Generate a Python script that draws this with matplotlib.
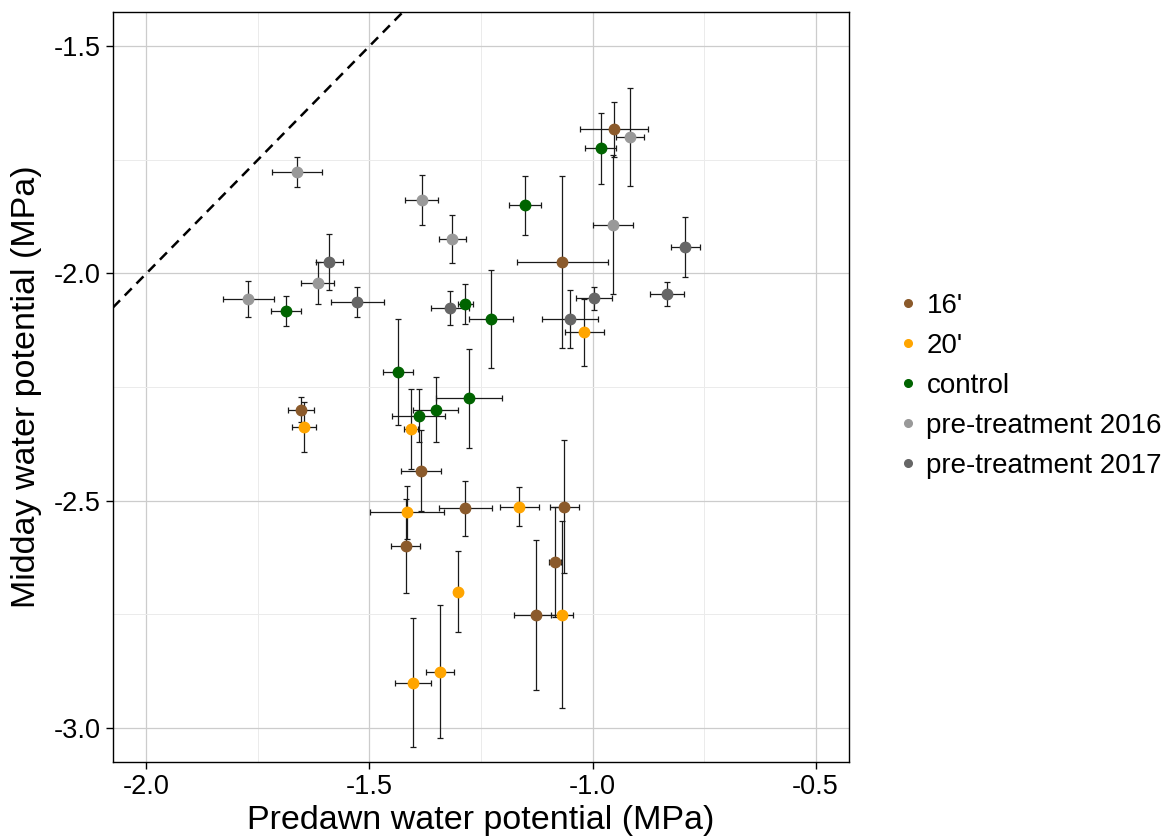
import matplotlib
matplotlib.use('Agg')
import matplotlib.pyplot as plt
from matplotlib import font_manager
from matplotlib.lines import Line2D

#%% fonts - narrow sans if we have one
names = {f.name for f in font_manager.fontManager.ttflist}
fam = 'Liberation Sans Narrow' if 'Liberation Sans Narrow' in names else 'Liberation Sans'
plt.rcParams['font.family'] = [fam, 'DejaVu Sans']
plt.rcParams['axes.unicode_minus'] = False

#%% data (predawn x, midday y, and error bar half widths)
groups = ["16'", "20'", "control", "pre-treatment 2016", "pre-treatment 2017"]
colors = ['#8B5A2B', '#FFA500', '#006400', '#999999', '#666666']

x_16 = [-0.951, -1.068, -1.653, -1.385, -1.285, -1.419, -1.063, -1.084, -1.126]
y_16 = [-1.683, -1.975, -2.300, -2.434, -2.517, -2.600, -2.513, -2.634, -2.751]
xe_16 = [0.076, 0.102, 0.029, 0.045, 0.060, 0.033, 0.032, 0.014, 0.049]
ye_16 = [0.060, 0.190, 0.028, 0.089, 0.060, 0.104, 0.146, 0.121, 0.165]

x_20 = [-1.018, -1.647, -1.407, -1.415, -1.164, -1.302, -1.402, -1.342, -1.068]
y_20 = [-2.130, -2.338, -2.343, -2.526, -2.513, -2.700, -2.901, -2.876, -2.751]
xe_20 = [0.044, 0.026, 0.015, 0.083, 0.043, 0.008, 0.041, 0.032, 0.024]
ye_20 = [0.074, 0.056, 0.088, 0.059, 0.043, 0.089, 0.142, 0.147, 0.206]

x_ctl = [-1.687, -1.285, -0.982, -1.151, -1.227, -1.436, -1.277, -1.352, -1.390]
y_ctl = [-2.083, -2.067, -1.725, -1.850, -2.100, -2.217, -2.275, -2.300, -2.313]
xe_ctl = [0.033, 0.016, 0.035, 0.036, 0.049, 0.034, 0.074, 0.050, 0.059]
ye_ctl = [0.033, 0.044, 0.078, 0.065, 0.108, 0.117, 0.109, 0.071, 0.059]

x_p16 = [-1.663, -1.3825, -1.314, -1.616, -1.772, -0.916, -0.954]
y_p16 = [-1.777, -1.839, -1.925, -2.022, -2.056, -1.700, -1.893]
xe_p16 = [0.056, 0.037, 0.031, 0.037, 0.057, 0.032, 0.045]
ye_p16 = [0.033, 0.055, 0.053, 0.046, 0.040, 0.108, 0.153]

x_p17 = [-1.590, -1.527, -1.319, -0.792, -0.834, -0.996, -1.051]
y_p17 = [-1.975, -2.063, -2.076, -1.941, -2.045, -2.055, -2.100]
xe_p17 = [0.031, 0.060, 0.043, 0.032, 0.038, 0.040, 0.063]
ye_p17 = [0.061, 0.033, 0.038, 0.066, 0.026, 0.026, 0.064]

xs = [x_16, x_20, x_ctl, x_p16, x_p17]
ys = [y_16, y_20, y_ctl, y_p16, y_p17]
xes = [xe_16, xe_20, xe_ctl, xe_p16, xe_p17]
yes = [ye_16, ye_20, ye_ctl, ye_p16, ye_p17]

xticks = [-2.0, -1.5, -1.0, -0.5]
yticks = [-3.0, -2.5, -2.0, -1.5]

#%% plot
fig = plt.figure(figsize=(11.74, 8.4), dpi=100)
ax = fig.add_axes([113/1174, 1-762/840, (849-113)/1174, (762-12)/840])

ax.set_xlim(-2.075, -0.425)
ax.set_ylim(-3.075, -1.425)

ax.set_xticks(xticks)
ax.set_yticks(yticks)
ax.set_xticks([-1.75, -1.25, -0.75], minor=True)
ax.set_yticks([-2.75, -2.25, -1.75], minor=True)
ax.grid(which='major', color='#cccccc', lw=0.9, zorder=0)
ax.grid(which='minor', color='#ebebeb', lw=0.7, zorder=0)
ax.set_axisbelow(True)
ax.tick_params(which='minor', length=0)
ax.tick_params(which='major', length=5, width=1, color='black', labelsize=19.5, pad=4)
for s in ax.spines.values():
    s.set_linewidth(1.0)
    s.set_color('black')

ax.axline((-2, -2), slope=1, color='black', lw=1.8, dashes=(4, 2.7), zorder=1)

for i in range(len(groups)):
    ax.errorbar(xs[i], ys[i], xerr=xes[i], yerr=yes[i], fmt='none',
                ecolor='#1a1a1a', elinewidth=0.9, capsize=2.4, capthick=0.9, zorder=2)
for i in range(len(groups)):
    ax.plot(xs[i], ys[i], 'o', color=colors[i], ms=7.5, mec=colors[i], zorder=3, ls='none')

ax.set_xlabel('Predawn water potential (MPa)', fontsize=24.5, labelpad=3)
ax.set_ylabel('Midday water potential (MPa)', fontsize=24.5, labelpad=8)

handles = [Line2D([], [], marker='o', ls='none', color=c, ms=5.5) for c in colors]
fig.legend(handles, groups, loc='center left', bbox_to_anchor=(0.756, 1-386/840),
           frameon=False, fontsize=20, handletextpad=0.3, labelspacing=0.5,
           handlelength=0.7, borderaxespad=0)

plt.savefig('out.png', dpi=100)
